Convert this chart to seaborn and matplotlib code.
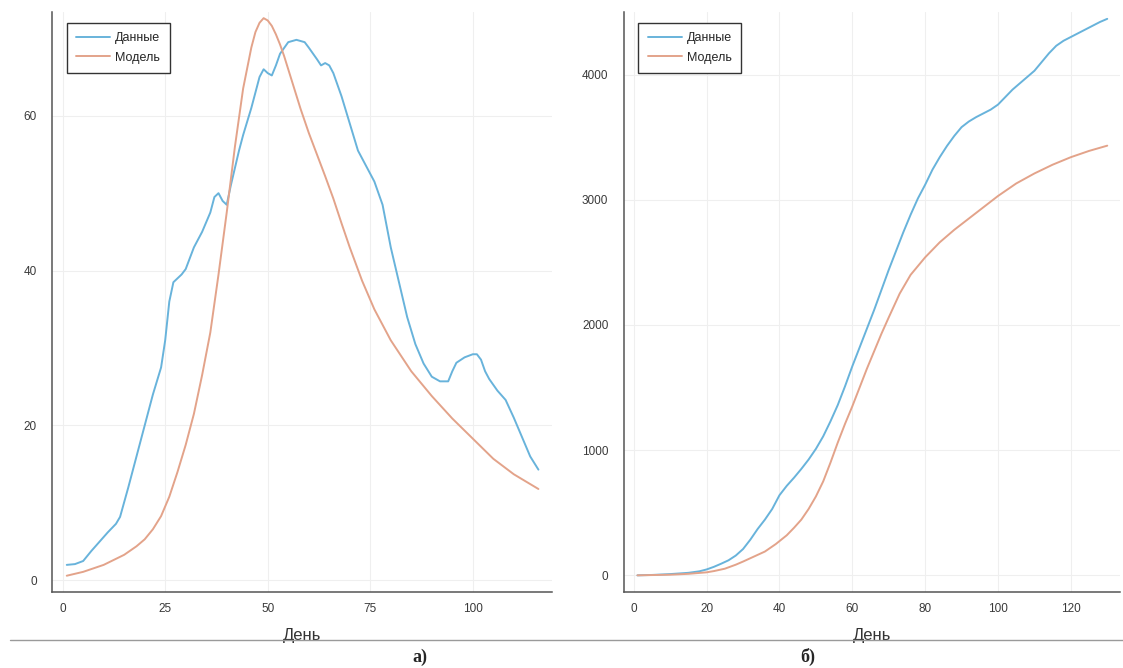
import seaborn as sns
import matplotlib.pyplot as plt
import pandas as pd
from matplotlib.lines import Line2D

# Panel a) - daily values
days_a_data = [1, 3, 5, 7, 9, 11, 13, 14, 16, 18, 20, 22, 24, 25, 26, 27, 29, 30,
               32, 34, 36, 37, 38, 39, 40, 41, 43, 44, 46, 48, 49, 50, 51, 52, 53,
               55, 57, 59, 60, 62, 63, 64, 65, 66, 68, 70, 72, 74, 76, 78, 80, 82,
               84, 86, 88, 90, 92, 94, 95, 96, 98, 100, 101, 102, 103, 104, 106,
               108, 110, 112, 114, 116]
vals_a_data = [2.0, 2.1, 2.5, 3.8, 5.0, 6.2, 7.3, 8.2, 12, 16, 20, 24, 27.5, 31,
               36, 38.5, 39.5, 40.2, 43, 45, 47.5, 49.5, 50, 49, 48.5, 51, 55.5,
               57.5, 61, 65, 66, 65.5, 65.2, 66.5, 68, 69.5, 69.8, 69.5, 68.8,
               67.3, 66.5, 66.8, 66.5, 65.5, 62.5, 59, 55.5, 53.5, 51.5, 48.5, 43,
               38.5, 34, 30.5, 28, 26.3, 25.7, 25.7, 27, 28.1, 28.8, 29.2, 29.2,
               28.5, 27, 26, 24.5, 23.3, 21, 18.5, 16, 14.3]
days_a_model = [1, 5, 10, 15, 18, 20, 22, 24, 26, 28, 30, 32, 34, 36, 38, 40, 42,
                44, 46, 47, 48, 49, 50, 51, 52, 53, 54, 56, 58, 60, 62, 64, 66, 68,
                70, 73, 76, 80, 85, 90, 95, 100, 105, 110, 116]
vals_a_model = [0.6, 1.1, 2.0, 3.3, 4.4, 5.3, 6.6, 8.3, 10.8, 14, 17.5, 21.5, 26.5,
                32, 39.5, 47.5, 56, 63.5, 68.8, 70.8, 72.0, 72.6, 72.3, 71.6, 70.5,
                69.2, 67.7, 64.3, 60.9, 57.8, 55, 52.2, 49.3, 46.1, 43, 38.7, 35,
                31, 27, 23.8, 20.9, 18.3, 15.7, 13.7, 11.8]

# Panel б) - cumulative values
days_b_data = [1, 5, 10, 15, 18, 20, 22, 24, 26, 28, 30, 32, 34, 36, 38, 40, 42,
               44, 46, 48, 50, 52, 54, 56, 58, 60, 62, 64, 66, 68, 70, 72, 74, 76,
               78, 80, 82, 84, 86, 88, 90, 92, 94, 96, 98, 100, 102, 104, 106, 108,
               110, 112, 114, 116, 118, 120, 122, 124, 126, 128, 130]
vals_b_data = [0, 3, 10, 20, 32, 47, 68, 93, 120, 158, 210, 285, 370, 445, 530,
               640, 715, 780, 850, 925, 1010, 1110, 1230, 1360, 1510, 1670, 1820,
               1970, 2120, 2280, 2440, 2590, 2740, 2880, 3010, 3120, 3240, 3340,
               3430, 3510, 3580, 3625, 3660, 3690, 3720, 3760, 3820, 3880, 3930,
               3980, 4030, 4100, 4170, 4230, 4270, 4300, 4330, 4360, 4390, 4420,
               4445]
days_b_model = [1, 10, 15, 20, 22, 25, 28, 30, 33, 36, 39, 42, 44, 46, 48, 50, 52,
                54, 56, 58, 60, 62, 64, 66, 68, 70, 73, 76, 80, 84, 88, 92, 96, 100,
                105, 110, 115, 120, 125, 130]
vals_b_model = [0, 5, 12, 24, 34, 53, 85, 110, 150, 190, 250, 320, 380, 445, 530,
                630, 750, 900, 1060, 1210, 1350, 1500, 1650, 1790, 1930, 2060, 2250,
                2400, 2540, 2660, 2760, 2850, 2940, 3030, 3130, 3210, 3280, 3340,
                3390, 3432]

series_names = ['Данные', 'Модель']
series_colors = ['#68b3db', '#e3a38a']

xticks_a = [0, 25, 50, 75, 100]
yticks_a = [0, 20, 40, 60]
xticks_b = [0, 20, 40, 60, 80, 100, 120]
yticks_b = [0, 1000, 2000, 3000, 4000]

sns.set_style('white')
plt.rcParams['font.family'] = ['Liberation Sans', 'DejaVu Sans']


def long_df(days_d, vals_d, days_m, vals_m):
    d = pd.DataFrame({'День': days_d, 'value': vals_d, 'series': series_names[0]})
    m = pd.DataFrame({'День': days_m, 'value': vals_m, 'series': series_names[1]})
    return pd.concat([d, m], ignore_index=True)


def draw_panel(ax, df, xlim, ylim, xticks, yticks):
    sns.lineplot(data=df, x='День', y='value', hue='series',
                 palette=series_colors, hue_order=series_names,
                 estimator=None, linewidth=1.4, legend=False, ax=ax)
    ax.set_xlim(*xlim)
    ax.set_ylim(*ylim)
    ax.set_xticks(xticks)
    ax.set_yticks(yticks)
    ax.set_ylabel('')
    ax.grid(True, color='#efefef', linewidth=0.8)
    ax.set_axisbelow(True)
    for side in ['top', 'right']:
        ax.spines[side].set_visible(False)
    for side in ['left', 'bottom']:
        ax.spines[side].set_color('#555555')
        ax.spines[side].set_linewidth(1.1)
    ax.tick_params(axis='both', direction='in', length=3, width=0.8,
                   color='#555555', labelsize=8.5, labelcolor='#3a3a3a')
    ax.tick_params(axis='x', pad=8)
    ax.tick_params(axis='y', pad=11)
    ax.set_xlabel('День', fontsize=12, color='#333333')
    ax.xaxis.set_label_coords(0.5, -0.075)
    ax.xaxis.label.set_va('center')
    leg = ax.legend(handles=ax.lines[:2], labels=series_names,
                    loc='upper left', bbox_to_anchor=(0.03, 0.981),
                    borderaxespad=0, frameon=True, fancybox=False,
                    framealpha=1, edgecolor='#333333', fontsize=9,
                    handlelength=2.7, handletextpad=0.4, borderpad=0.75,
                    labelspacing=0.6)
    leg.get_frame().set_linewidth(1.0)


fig = plt.figure(figsize=(11.23, 6.68), dpi=100)
ax_a = fig.add_axes([0.0463, 0.1138, 0.4452, 0.8683])
ax_b = fig.add_axes([0.5553, 0.1138, 0.4417, 0.8683])

draw_panel(ax_a, long_df(days_a_data, vals_a_data, days_a_model, vals_a_model),
           (-2.6, 119.3), (-1.5, 73.4), xticks_a, yticks_a)
draw_panel(ax_b, long_df(days_b_data, vals_b_data, days_b_model, vals_b_model),
           (-2.8, 133.4), (-133, 4500), xticks_b, yticks_b)

# separator line and panel captions
fig.add_artist(Line2D([0.009, 1.0], [0.0419, 0.0419], transform=fig.transFigure,
                      color='#9a9a9a', linewidth=1.0))
fig.text(420 / 1123, 1 - 657 / 668, 'а)', ha='center', va='center',
         fontsize=13, fontweight='bold', family=['Liberation Serif', 'DejaVu Serif'])
fig.text(808 / 1123, 1 - 657 / 668, 'б)', ha='center', va='center',
         fontsize=13, fontweight='bold', family=['Liberation Serif', 'DejaVu Serif'])

fig.savefig('out.png', dpi=100)
plt.close(fig)
